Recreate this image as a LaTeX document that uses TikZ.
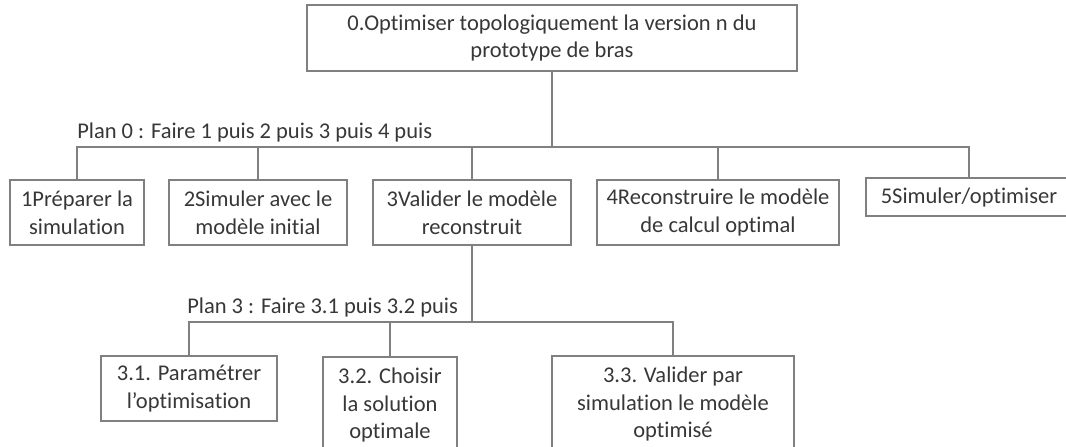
\documentclass[tikz,border=0pt]{standalone}
\usepackage{fontspec}
\setmainfont{Carlito}[Ligatures=NoCommon]
\usepackage{tikz}
\usetikzlibrary{positioning}
\usetikzlibrary{calc}
\definecolor{linegray}{RGB}{128,128,128}
\definecolor{textgray}{RGB}{55,55,55}
\tikzset{
    task/.style={draw=linegray, line width=1pt, align=center, text=textgray,
        inner sep=0pt, font=\fontsize{16}{19.8}\selectfont},
    plan/.style={anchor=base west, inner sep=0pt, text=textgray,
        font=\fontsize{16}{19.8}\selectfont},
    link/.style={draw=linegray, line width=1pt},
}

\begin{document}
\begin{tikzpicture}[x=0.025cm, y=-0.025cm] % task hierarchy
	\useasboundingbox (0,0) rectangle (1066,447);
	\node[task, minimum width=490*0.025cm, minimum height=66*0.025cm] (b0) at (552,38) {0.Optimiser topologiquement la version n du\\prototype de bras};
	\node[plan] (p0) at (77,138) {Plan 0 : Faire 1 puis 2 puis 3 puis 4 puis};
	\coordinate (bar0) at (0,147);
	\node[task, minimum width=134*0.025cm, minimum height=65*0.025cm] (b1) at (77,212.5) {1Préparer la\\simulation};
	\node[task, minimum width=178*0.025cm, minimum height=65*0.025cm] (b2) at (258,212.5) {2Simuler avec le\\modèle initial};
	\node[task, minimum width=198*0.025cm, minimum height=65*0.025cm] (b3) at (472,212.5) {3Valider le modèle\\reconstruit};
	\node[task, minimum width=242*0.025cm, minimum height=65*0.025cm] (b4) at (718,212.5) {4Reconstruire le modèle\\de calcul optimal};
	\node[task, minimum width=206*0.025cm, minimum height=38*0.025cm] (b5) at (969,197) {5Simuler/optimiser};
	\foreach \k in {1,...,5}
		\draw[link] (b0.south) -- (b0.south |- bar0) -| (b\k.north);
	% plan 3
	\node[plan] (p3) at (187,313) {Plan 3 : Faire 3.1 puis 3.2 puis};
	\coordinate (bar3) at (0,322);
	\node[task, minimum width=176*0.025cm, minimum height=65*0.025cm] (b31) at (189,388.5) {3.1. Paramétrer\\l’optimisation};
	\node[task, minimum width=134*0.025cm, minimum height=96*0.025cm] (b32) at (390,405) {3.2. Choisir\\la solution\\optimale};
	\node[task, minimum width=242*0.025cm, minimum height=96*0.025cm] (b33) at (673,404) {3.3. Valider par\\simulation le modèle\\optimisé};
	\foreach \k in {31,32,33}
		\draw[link] (b3.south) -- (b3.south |- bar3) -| (b\k.north);
\end{tikzpicture}
\end{document}
